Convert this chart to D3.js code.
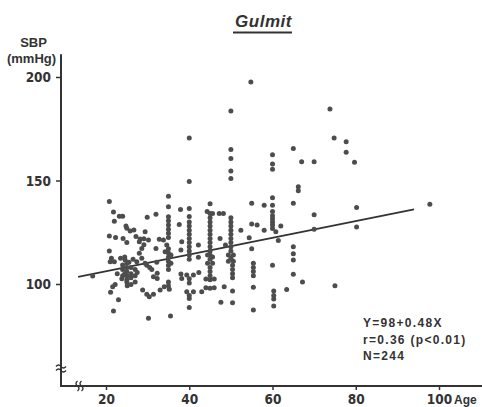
<!DOCTYPE html>
<html>
<head>
<meta charset="utf-8">
<script src="https://cdn.jsdelivr.net/npm/d3@7"></script>
<style>
  body { margin: 0; background: #fff; }
  svg { display: block; }
</style>
</head>
<body>
<svg id="chart" width="482" height="407"></svg>
<script>
// Data: [age, SBP]
var points = [
  [16.8,103.9],[20.8,139.8],[21.8,134.8],[22,130.3],[23.2,132.7],[24,132.7],
  [20.8,123.2],[22.3,122.5],[24.1,122],[20.8,116],[21.3,112.4],[21,110.8],
  [22,110.8],[23.5,112.4],[24.6,111.6],[24,109.2],[22.7,105],[21.6,98.7],
  [21.1,96],[22.2,99.8],[23,92.4],[21.8,87],
  [25,126.9],[25.8,125.6],[26.7,126.1],[24.8,128],[25,120],[27.2,122.9],
  [28,120.4],[28.6,117.2],[28,114.8],[25,110],[27.4,110.8],[28.6,112.4],[29.4,110],
  [25,108],[25,106],[25,104],[25,102],[24,107],[24,104],[26,108],[26,105],
  [26,103],[27,107],[27,104],[25.5,110.5],[24.5,113],[26.5,112],[23.8,102.5],
  [25,101],[27,101],[26,99.8],[25.1,99.2],[27.5,105.5],[24.5,105],
  [28.2,121.7],[29.1,121.8],[29.1,119],[29.4,125.3],[30.2,121.3],[29.9,132.2],
  [29.8,109],[30.5,108],[31,107],[31.4,103.5],[28.8,97.1],[29.8,95],[30.4,93.9],
  [31.4,95],[30.2,83.4],
  [32,133.7],[32,117.2],[32.2,110.5],[32.3,105.2],[32.3,102.7],[32.8,121.6],
  [33.8,121.3],[34.6,118.8],[34.2,115.6],[33,97.1],[34,98.7],
  [35,142.4],[35,137.3],[35,132.5],[35,130.5],[35,128.5],[35,126.5],[35,124.5],
  [35,122.5],[35,117],[35,115],[35,113],[35,111],[35,109],[35,107],[35.6,114],
  [35.6,110],[35,101],[35,99.2],[35.2,97.5],[35.5,84.6],
  [37.9,136],[37.6,128.8],[38.2,120.4],[38,116.4],[38,104.8],[38.2,102.6],
  [40,170.5],[40,149.5],[40,136.5],[40,132.6],[40,130],[40,128],[40,126],[40,124],
  [40,122],[40,120],[40,118],[40,116],[40,114],[40,112],[39.4,104.4],[41,104.4],
  [40,102.5],[40,100.5],[39.4,96.3],[41,96.3],[40,94.5],[40,93],[40,88.7],
  [42.3,105.6],[42.2,118.8],[42.2,112.9],[43,96.3],
  [45,138.8],[44.3,135],[45,134],[45.6,134],[45,132],[45,130],[45,128],[45,126],
  [45,124],[45,122],[45,120],[45,118],[45,116],[45,114],[45,112],[44.4,114],
  [45.6,113],[44.4,110],[45.6,110],[45,108],[45,106],[45,104],[44,102.4],[45,102],
  [46,102.4],[44,98.2],[45,98],[46,98.2],
  [47.2,134],[48.2,134],[47.4,122],[48.7,118.8],[48.4,98.7],[47.6,91.2],
  [50,183.6],[50,165],[50,160.6],[50,154.6],[50,151],[50,132],[50,130],[50,128],
  [50,126],[50,124],[50,122],[50,120],[50,118],[50,116],[49.4,114],[50.6,114],
  [49.4,111],[50.6,111],[50,112.5],[50.4,109],[50.4,107],[50.4,105],[50.4,103],
  [50.4,96.6],[50.4,91],
  [52.4,126],[54.4,122.4],
  [54.8,197.6],[55,139],[55,129],[56.3,128.5],[55,117],[55.4,110],[55.4,108],
  [55.4,106],[55.4,104],[55.4,98.4],[55.4,87.4],
  [58,138],[58,126],
  [60,162.5],[60,158],[60,155.4],[60,141.7],[60,138],[60,135],[60,133],[60,131.5],
  [60,130],[60,128.5],[60,126.8],[60.8,125.3],[62,128],[61.4,121],[60,109],
  [60.3,96.6],[60.3,94.5],[60.3,92.8],[60.3,89.4],[63.4,97.4],
  [65,165.5],[67,159],[70,159],[66.2,147],[66.2,145],[65,139],[65,118],[65,114.6],
  [65,111.6],[65,104.7],[67.2,101],[70,133.5],[70,126.4],[73.8,184.5],[74.8,170.5],
  [77.7,168.7],[77.7,163.6],[79.7,158.8],[80.2,137],[80.2,127.5],[75,99.2],[97.8,138.5]
];

// Fitted line as drawn, end points [age, SBP]
var regression = [[13.3,103.4],[94,136.1]];

var xTicks = [20, 40, 60, 80, 100];
var yTicks = [100, 150, 200];
var statLines = ["Y=98+0.48X", "r=0.36 (p<0.01)", "N=244"];

var ink = "#333";
var dotColor = "#4d4d4d";
var narrow = "'Liberation Sans Narrow', 'DejaVu Sans Condensed', sans-serif";
var sans = "'Liberation Sans', Arial, sans-serif";

var svg = d3.select("#chart");

var x = d3.scaleLinear().domain([20, 100]).range([106, 439]);
var y = d3.scaleLinear().domain([100, 200]).range([284, 77]);

var axisX = 61, axisY = 386;

// Title
svg.append("text")
    .attr("x", 263.5).attr("y", 26.5)
    .attr("text-anchor", "middle")
    .attr("font-family", sans).attr("font-weight", "bold").attr("font-style", "italic")
    .attr("font-size", 17).attr("letter-spacing", 0.5)
    .attr("fill", ink)
    .text("Gulmit");
svg.append("line")
    .attr("x1", 233).attr("x2", 292).attr("y1", 32.5).attr("y2", 32.5)
    .attr("stroke", ink).attr("stroke-width", 1.8);

// Y axis label
svg.append("text")
    .attr("x", 33.5).attr("y", 46.5).attr("text-anchor", "middle")
    .attr("font-family", sans).attr("font-weight", "bold").attr("font-size", 13)
    .attr("fill", ink).text("SBP");
svg.append("text")
    .attr("x", 31.5).attr("y", 62.5).attr("text-anchor", "middle")
    .attr("font-family", sans).attr("font-weight", "bold").attr("font-size", 13)
    .attr("fill", ink).text("(mmHg)");

// Axes
var yAxis = svg.append("g")
    .attr("transform", "translate(" + axisX + ",0)")
    .call(d3.axisLeft(y).tickValues(yTicks).tickSize(5).tickPadding(5));
var xAxis = svg.append("g")
    .attr("transform", "translate(0," + axisY + ")")
    .call(d3.axisBottom(x).tickValues(xTicks).tickSize(4).tickPadding(5));

[yAxis, xAxis].forEach(function (g) {
    g.select(".domain").remove();
    g.selectAll(".tick line").attr("stroke", ink).attr("stroke-width", 1.5);
    g.selectAll(".tick text")
        .attr("fill", ink)
        .attr("font-family", narrow).attr("font-weight", "bold").attr("font-size", 13.5);
});
yAxis.selectAll(".tick text").attr("dy", "0.36em");
xAxis.selectAll(".tick text").attr("dy", "0.7em");

svg.append("line")
    .attr("x1", axisX).attr("x2", axisX)
    .attr("y1", y(211)).attr("y2", axisY + 1)
    .attr("stroke", ink).attr("stroke-width", 2);
svg.append("line")
    .attr("x1", axisX).attr("x2", 482)
    .attr("y1", axisY).attr("y2", axisY)
    .attr("stroke", ink).attr("stroke-width", 2);

svg.append("text")
    .attr("x", 454).attr("y", 403.5)
    .attr("font-family", sans).attr("font-weight", "bold").attr("font-size", 12)
    .attr("fill", ink).text("Age");

// Axis breaks
var breaks = svg.append("g").attr("fill", "none").attr("stroke", ink).attr("stroke-width", 1.4);
[366.5, 370.5].forEach(function (by) {
    breaks.append("path")
        .attr("d", "M" + (axisX - 5) + "," + by + " q2.5,-3 5,0 t5,0");
});
[77.5, 81.5].forEach(function (bx) {
    breaks.append("path")
        .attr("d", "M" + bx + "," + (axisY - 5) + " q-3,2.5 0,5 t0,5");
});

// Regression line
svg.append("line")
    .attr("x1", x(regression[0][0])).attr("y1", y(regression[0][1]))
    .attr("x2", x(regression[1][0])).attr("y2", y(regression[1][1]))
    .attr("stroke", ink).attr("stroke-width", 1.8);

// Dots
svg.append("g").selectAll("circle")
    .data(points)
    .enter().append("circle")
    .attr("cx", function (d) { return x(d[0]); })
    .attr("cy", function (d) { return y(d[1]); })
    .attr("r", 2.5)
    .attr("fill", dotColor);

// Stats
svg.append("g").selectAll("text")
    .data(statLines)
    .enter().append("text")
    .attr("x", 363)
    .attr("y", function (d, i) { return 327 + i * 16.5; })
    .attr("font-family", sans).attr("font-weight", "bold").attr("font-size", 12)
    .attr("letter-spacing", 1.3)
    .attr("fill", ink)
    .text(function (d) { return d; });
</script>
</body>
</html>
